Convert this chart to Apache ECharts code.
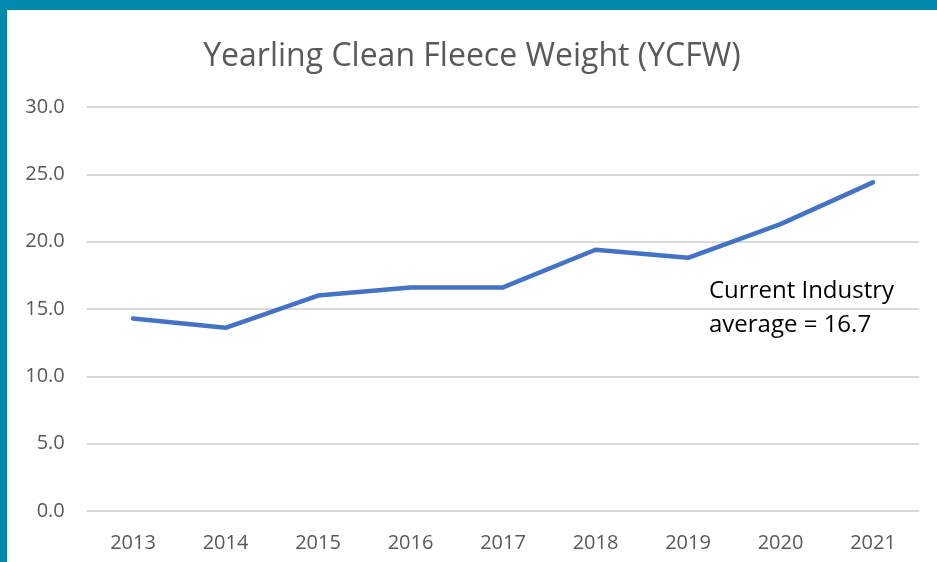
<!DOCTYPE html>
<html><head><meta charset="utf-8">
<script src="https://cdn.jsdelivr.net/npm/echarts@6/dist/echarts.min.js"></script>
<style>
html,body{margin:0;padding:0;width:937px;height:562px;overflow:hidden;background:#0089ac;}
#c{position:absolute;left:7px;top:10px;width:930px;height:552px;background:#fff;}
</style></head>
<body><div id="c"></div>
<script>
const years = ['2013','2014','2015','2016','2017','2018','2019','2020','2021'];
const ycfw = [14.3, 13.6, 16.0, 16.6, 16.6, 19.4, 18.8, 21.3, 24.4];
const titleText = 'Yearling Clean Fleece Weight (YCFW)';
const noteLines = ['Current Industry', 'average = 16.7'];

const chart = echarts.init(document.getElementById('c'), null, {renderer:'canvas'});
chart.setOption({
  backgroundColor:'#fff',
  animation:false,
  title:{text:titleText, left:'center', top:26,
    textStyle:{fontFamily:'Open Sans', fontSize:32, fontWeight:'normal', color:'#595959'}},
  grid:{left:79.75, right:17.75, top:97, bottom:51},
  xAxis:{type:'category', data:years, boundaryGap:true,
    axisLine:{show:false}, axisTick:{show:false},
    axisLabel:{fontFamily:'Open Sans', fontSize:20, color:'#595959', margin:22}},
  yAxis:{type:'value', min:0, max:30, interval:5,
    axisLine:{show:false}, axisTick:{show:false},
    axisLabel:{fontFamily:'Open Sans', fontSize:20, color:'#595959', margin:22,
      formatter:v=>v.toFixed(1)},
    splitLine:{lineStyle:{color:'#d9d9d9', width:2}}},
  series:[{type:'line', data:ycfw, symbol:'none', smooth:false,
    lineStyle:{color:'#4472c4', width:4.5, cap:'round', join:'round'}}],
  graphic:[{type:'text', left:702, top:264,
    style:{text:noteLines.join('\n'), fontFamily:'Open Sans', fontSize:24, lineHeight:34, fill:'#000'}}]
});
</script></body></html>
